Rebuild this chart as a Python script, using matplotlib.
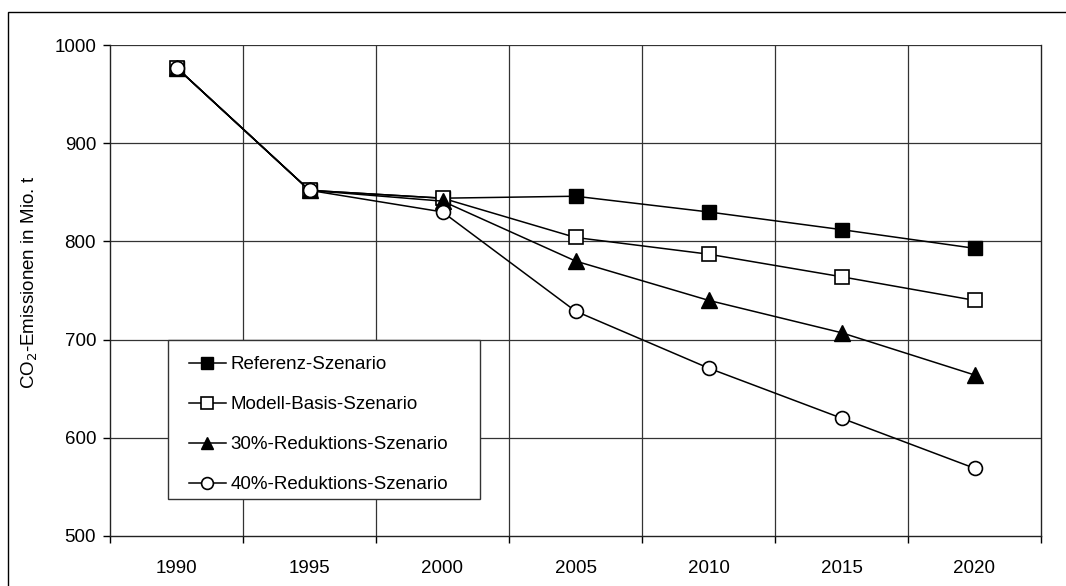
import matplotlib
matplotlib.use("Agg")
import matplotlib.pyplot as plt
from matplotlib.patches import Rectangle

plt.rcParams['font.family'] = ['Liberation Sans', 'DejaVu Sans']

years = ["1990", "1995", "2000", "2005", "2010", "2015", "2020"]
referenz = [977, 852, 844, 846, 830, 812, 793]
modell = [977, 852, 844, 804, 787, 764, 740]
red30 = [977, 852, 841, 780, 740, 707, 664]
red40 = [977, 852, 830, 729, 671, 620, 569]
labels = ["Referenz-Szenario", "Modell-Basis-Szenario",
          "30%-Reduktions-Szenario", "40%-Reduktions-Szenario"]

W, H = 1066, 586
fig = plt.figure(figsize=(W / 100, H / 100), dpi=100)
AX_L, AX_R, AX_T, AX_B = 110, 1041, 45, 536
ax = fig.add_axes([AX_L / W, 1 - AX_B / H, (AX_R - AX_L) / W, (AX_B - AX_T) / H])

# outer frame
fig.patches.append(Rectangle((8 / W, -0.1), 1.2, (1 - 11.5 / H) + 0.1,
                             transform=fig.transFigure, fill=False,
                             edgecolor='black', linewidth=1.0, zorder=0))

FS = 13.5
x = list(range(len(years)))
lw = 1.1
ax.plot(x, referenz, color='black', lw=lw, marker='s', ms=10,
        mfc='black', mec='black', label=labels[0], zorder=5)
ax.plot(x, modell, color='black', lw=lw, marker='s', ms=10,
        mfc='white', mec='black', mew=1.2, label=labels[1], zorder=5)
ax.plot(x, red30, color='black', lw=lw, marker='^', ms=11,
        mfc='black', mec='black', label=labels[2], zorder=5)
ax.plot(x, red40, color='black', lw=lw, marker='o', ms=10,
        mfc='white', mec='black', mew=1.2, label=labels[3], zorder=5)

ax.set_xlim(-0.5, len(years) - 0.5)
ax.set_ylim(500, 1000)
ax.set_yticks(range(500, 1001, 100))
ax.set_xticks(x)
ax.set_xticklabels(years)
ax.set_xticks([i + 0.5 for i in range(-1, len(years))], minor=True)
ax.tick_params(axis='x', which='major', length=0, pad=17.5, labelsize=FS)
ax.tick_params(axis='x', which='minor', length=5, direction='out', width=1)
ax.tick_params(axis='y', length=5, direction='out', width=1, labelsize=FS, pad=5)

for v in range(600, 1001, 100):
    ax.axhline(v, color='#333333', lw=0.9, zorder=1)
for i in range(len(years) - 1):
    ax.axvline(i + 0.5, color='#333333', lw=0.9, zorder=1)

for s in ['left', 'bottom', 'right']:
    ax.spines[s].set_color('#222222')
    ax.spines[s].set_linewidth(1.0)
ax.spines['top'].set_visible(False)

ax.set_ylabel("CO$_2$-Emissionen in Mio. t", fontsize=FS)
ax.yaxis.set_label_coords(-(AX_L - 40) / (AX_R - AX_L), (AX_B - 282) / (AX_B - AX_T))

# legend box
ax.add_patch(Rectangle((168 / W, 1 - 499 / H), (480 - 168) / W, (499 - 340) / H,
                       transform=fig.transFigure, facecolor='white',
                       edgecolor='#333333', linewidth=1.0, zorder=3, clip_on=False))
leg = ax.legend(loc='upper left',
                bbox_to_anchor=((189 - AX_L) / (AX_R - AX_L), (AX_B - 356) / (AX_B - AX_T)),
                frameon=False, fontsize=FS, handlelength=1.97,
                handletextpad=0.25, labelspacing=1.22, borderpad=0,
                borderaxespad=0, markerscale=0.85)
leg.set_zorder(10)

fig.savefig("out.png", dpi=100)
